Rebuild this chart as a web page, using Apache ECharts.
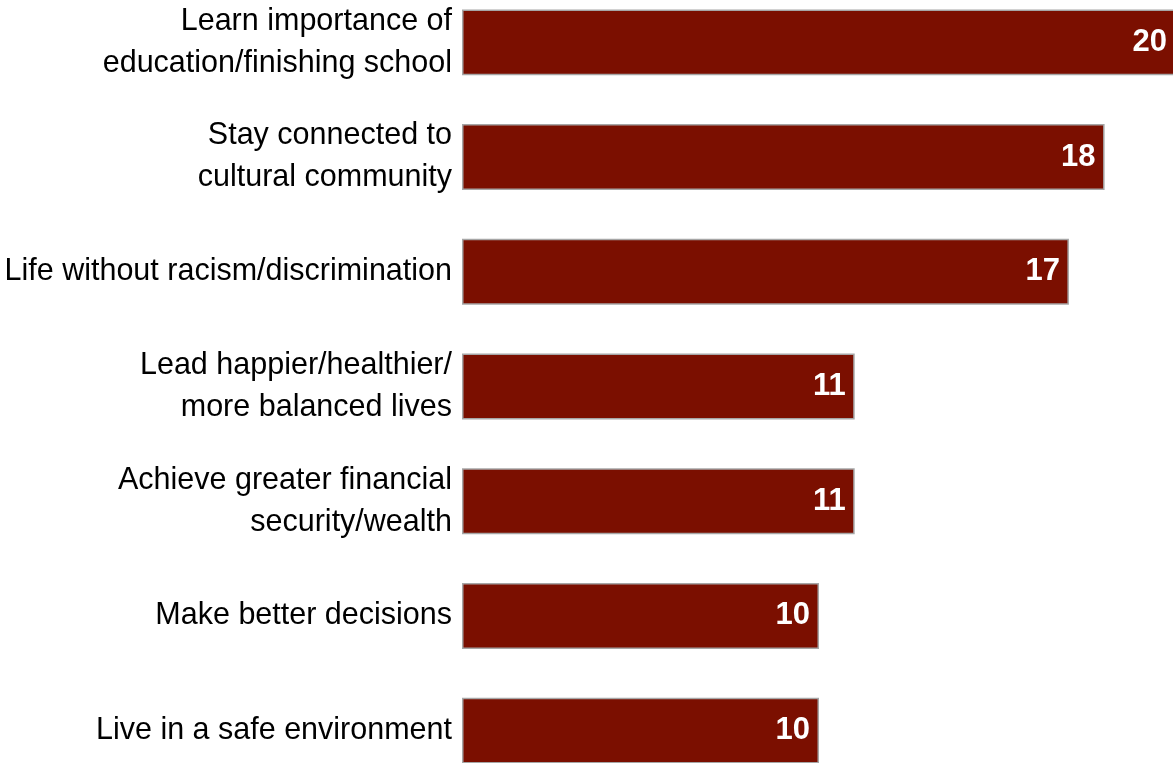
<!DOCTYPE html>
<html>
<head>
<meta charset="utf-8">
<style>
  html, body { margin: 0; padding: 0; background: #ffffff; }
  #chart { width: 1173px; height: 763px; }
</style>
<script src="https://cdn.jsdelivr.net/npm/echarts@6/dist/echarts.min.js"></script>
</head>
<body>
<div id="chart"></div>
<script>
// Reasons / hoped-for outcomes, top to bottom
const categories = [
  'Learn importance of\neducation/finishing school',
  'Stay connected to\ncultural community',
  'Life without racism/discrimination',
  'Lead happier/healthier/\nmore balanced lives',
  'Achieve greater financial\nsecurity/wealth',
  'Make better decisions',
  'Live in a safe environment'
];
const values = [20, 18, 17, 11, 11, 10, 10];

const FONT = '"Liberation Sans Narrow", "Arial Narrow", "Liberation Sans", Arial, sans-serif';

const chart = echarts.init(document.getElementById('chart'), null, { renderer: 'canvas' });
chart.setOption({
  animation: false,
  grid: { left: 462, right: -3, top: -15, bottom: -25, containLabel: false, outerBoundsMode: 'none' },
  xAxis: {
    type: 'value', min: 0, max: 20,
    show: false
  },
  yAxis: {
    type: 'category',
    inverse: true,
    data: categories,
    axisLine: { show: false },
    axisTick: { show: false },
    axisLabel: {
      margin: 10,
      color: '#000000',
      fontFamily: FONT,
      fontSize: 30.5,
      lineHeight: 42,
      align: 'right'
    }
  },
  series: [{
    type: 'bar',
    data: values,
    barWidth: '57.5%',
    clip: false,
    itemStyle: { color: '#7b0f00', borderColor: '#a6a6a6', borderWidth: 1.5 },
    label: {
      show: true,
      position: 'insideRight',
      distance: 9,
      color: '#ffffff',
      fontFamily: FONT,
      fontWeight: 'bold',
      fontSize: 31
    }
  }]
});
</script>
</body>
</html>
